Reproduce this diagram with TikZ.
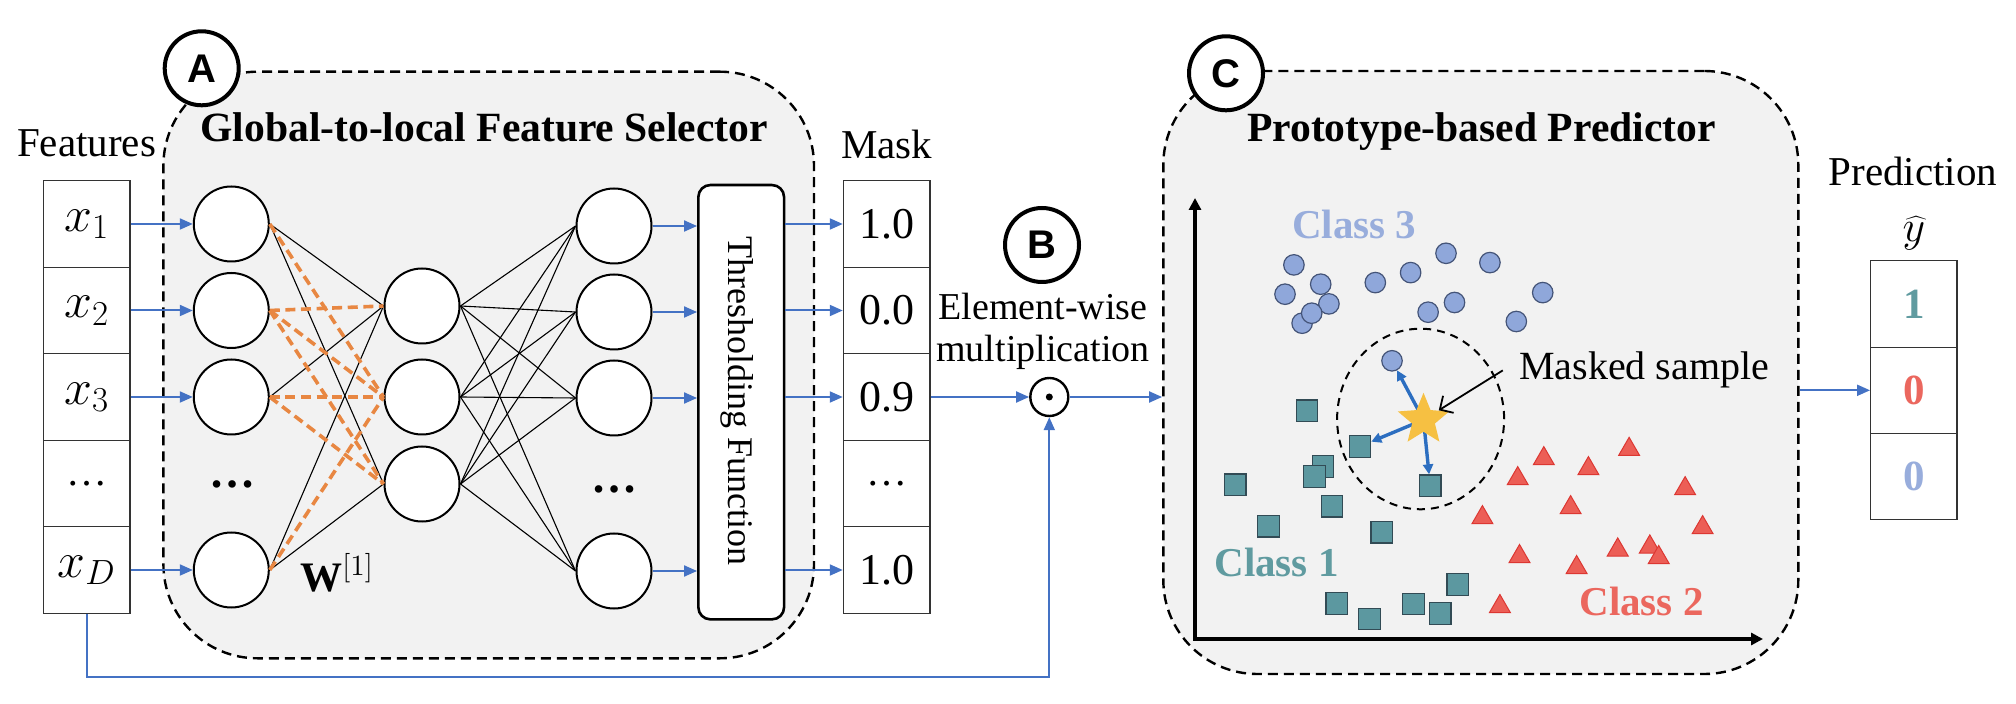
\RequirePackage{fix-cm}
\documentclass[tikz,border=0pt]{standalone}
\usepackage{fontspec}
\setmainfont{Liberation Serif}
\newfontfamily\arialfont{Liberation Sans}
\usetikzlibrary{arrows.meta,shapes.geometric}
\definecolor{boxgray}{RGB}{242,242,242}
\definecolor{arrowblue}{RGB}{68,114,196}
\definecolor{wOrange}{RGB}{232,135,66}
\definecolor{c3fill}{RGB}{143,167,218}
\definecolor{c3line}{RGB}{68,84,120}
\definecolor{c1fill}{RGB}{92,152,160}
\definecolor{c1line}{RGB}{50,75,85}
\definecolor{c2fill}{RGB}{236,94,86}
\definecolor{c2line}{RGB}{220,55,50}
\definecolor{c1text}{RGB}{96,155,160}
\definecolor{c2text}{RGB}{235,103,94}
\definecolor{c3text}{RGB}{152,173,220}
\definecolor{stargold}{RGB}{246,192,66}
\definecolor{starblue}{RGB}{44,110,192}
\newcommand{\fsz}[1]{\fontsize{#1}{#1}\selectfont}
\begin{document}
\begin{tikzpicture}[x=0.5pt,y=-0.5pt,
  txt/.style={inner sep=0pt,font=\fsz{20.5pt}},
  title/.style={inner sep=0pt,font=\bfseries\fsz{20.8pt}},
  lettercirc/.style={circle,draw,line width=2pt,fill=white,minimum size=37pt,inner sep=0pt,font=\arialfont\bfseries\fsz{20pt}},
  bigbox/.style={draw,dash pattern=on 5pt off 3pt,line width=1.2pt,fill=boxgray,rounded corners=47pt,inner sep=0pt},
  cell/.style={draw=black!80,line width=0.6pt,fill=white,minimum width=43.35pt,minimum height=43.25pt,inner sep=0pt},
  neuron/.style={circle,draw,line width=1pt,fill=white,minimum size=37.5pt,inner sep=0pt},
  arr/.style={draw=arrowblue,line width=1pt,-{Triangle[length=6.5pt,width=5.5pt]}},
  conn/.style={line width=0.55pt},
  wconn/.style={draw=wOrange,line width=1.8pt,dash pattern=on 5pt off 2.8pt},
  c3dot/.style={circle,draw=c3line,fill=c3fill,line width=0.6pt,minimum size=10.25pt,inner sep=0pt},
  c1sq/.style={rectangle,draw=c1line,fill=c1fill,line width=0.6pt,minimum size=10.75pt,inner sep=0pt},
  c2tri/.style={regular polygon,regular polygon sides=3,draw=c2line,fill=c2fill,line width=0.5pt,minimum size=12.1pt,inner sep=0pt},
  axis/.style={line width=1.6pt,{Triangle[length=6pt,width=6pt]}-{Triangle[length=6pt,width=6pt]}},
  sarr/.style={draw=starblue,line width=1.7pt,-{Triangle[length=5pt,width=5pt]}},
  msarr/.style={line width=0.9pt,-{Straight Barb[length=5pt,width=10pt,line width=0.9pt]}}
]
\useasboundingbox (0,0) rectangle (2016,704);

% ---------- big dashed boxes ----------
\node[bigbox,minimum width=325.3pt,minimum height=293.3pt] (Abox) at (488.7,365) {};
\node[bigbox,minimum width=317.5pt,minimum height=301.5pt] (Cbox) at (1480.8,372.5) {};
\node[lettercirc] (A) at (201.7,68.3) {A};
\node[lettercirc] (C) at (1226,73.3) {C};
\node[lettercirc] (B) at (1042,245) {B};
\node[title,anchor=base west] (tA) at (200,141.7) {Global-to-local Feature Selector};
\node[title,anchor=base west] (tC) at (1246.7,141.7) {Prototype-based Predictor};

% ---------- features ----------
\node[txt,anchor=base] (featlbl) at (86.5,157) {Features};
\node[cell,font=\fsz{25pt}] (f1) at (86.7,224) {$x_1$};
\node[cell,font=\fsz{25pt}] (f2) at (86.7,310.5) {$x_2$};
\node[cell,font=\fsz{25pt}] (f3) at (86.7,397) {$x_3$};
\node[cell,font=\fsz{20.5pt}] (f4) at (86.7,483.5) {\dots};
\node[cell,font=\fsz{25pt}] (f5) at (86.7,570) {$x_D$};

% ---------- network ----------
\node[neuron] (i1) at (231.3,224) {};
\node[neuron] (i2) at (231.3,310.5) {};
\node[neuron] (i3) at (231.3,397) {};
\node[neuron] (i5) at (231.3,570) {};
\node[inner sep=0pt,font=\bfseries\fsz{23pt}] (idots) at (232,484) {\dots};
\node[neuron] (h1) at (422,306) {};
\node[neuron] (h2) at (422,397) {};
\node[neuron] (h3) at (422,484) {};
\node[neuron] (o1) at (614,226) {};
\node[neuron] (o2) at (614,312) {};
\node[neuron] (o3) at (614,398) {};
\node[neuron] (o5) at (614,571) {};
\node[inner sep=0pt,font=\bfseries\fsz{23pt}] (odots) at (614,489) {\dots};

\draw[conn] (i1.east) -- (h1.west);
\draw[conn] (i1.east) -- (h3.west);
\draw[conn] (i3.east) -- (h1.west);
\draw[conn] (i5.east) -- (h1.west);
\draw[conn] (i5.east) -- (h3.west);
\draw[wconn] (i1.east) -- (h2.west);
\draw[wconn] (i2.east) -- (h1.west);
\draw[wconn] (i2.east) -- (h2.west);
\draw[wconn] (i2.east) -- (h3.west);
\draw[wconn] (i3.east) -- (h2.west);
\draw[wconn] (i3.east) -- (h3.west);
\draw[wconn] (i5.east) -- (h2.west);
\foreach \a in {1,2,3}{\foreach \b in {1,2,3,5}{\draw[conn] (h\a.east) -- (o\b.west);}}

\node[inner sep=0pt,anchor=base west,font=\fsz{21pt}] (W) at (300,591) {$\mathbf{W}^{[1]}$};

\foreach \i in {1,2,3,5}{\draw[arr] (f\i) -- (i\i);}

% ---------- thresholding ----------
\node[draw,line width=1.3pt,rounded corners=6pt,fill=white,minimum width=42.85pt,minimum height=217.15pt,inner sep=0pt] (thr) at (741.2,402.2) {};
\node[inner sep=0pt,rotate=-90,font=\fsz{18pt}] (thrtext) at (737,401) {Thresholding Function};
\foreach \i in {1,2,3,5}{\draw[arr] (o\i) -- (o\i -| thr.west);}

% ---------- mask ----------
\node[txt,anchor=base] (masklbl) at (886.7,158.5) {Mask};
\node[cell,font=\fsz{22pt}] (m1) at (886.7,224) {1.0};
\node[cell,font=\fsz{22pt}] (m2) at (886.7,310.5) {0.0};
\node[cell,font=\fsz{22pt}] (m3) at (886.7,397) {0.9};
\node[cell,font=\fsz{20.5pt}] (m4) at (886.7,483.5) {\dots};
\node[cell,font=\fsz{22pt}] (m5) at (886.7,570) {1.0};
\foreach \i in {1,2,3,5}{\draw[arr] (thr.east |- m\i) -- (m\i);}

% ---------- element-wise ----------
\node[inner sep=0pt,anchor=base,font=\fsz{19pt}] (ew1) at (1043,320) {Element-wise};
\node[inner sep=0pt,anchor=base,font=\fsz{19pt}] (ew2) at (1043,362) {multiplication};
\node[circle,draw,line width=1.2pt,fill=white,minimum size=19pt,inner sep=0pt] (odot) at (1049.3,397) {};
\fill (odot.center) circle[radius=3.5];
\draw[arr] (m3) -- (odot);
\draw[arr] (odot) -- (odot -| Cbox.west);
\coordinate (loop) at (1049.3,677);
\draw[arr] (f5.south) |- (loop) -- (odot);

% ---------- scatter ----------
\coordinate (org) at (1195,639);
\coordinate (ytop) at (1195,198);
\coordinate (xend) at (1763,639);
\draw[axis] (ytop) -- (org) -- (xend);
\node[ellipse,draw,dash pattern=on 4pt off 3pt,line width=1pt,minimum width=83.5pt,minimum height=90.3pt,inner sep=0pt] (nbhd) at (1420.6,419) {};

\foreach \x/\y [count=\k] in {1392.0/360.8,1293.9/264.9,1320.7/284.2,1285.0/294.2,1328.9/303.9,1302.1/323.2,1311.7/313.2,1375.3/282.6,1410.6/272.6,1446.0/253.3,1489.9/262.6,1454.5/302.5,1428.1/312.2,1542.7/292.6,1516.3/321.5}
  {\node[c3dot] (d\k) at (\x,\y) {};}
\foreach \x/\y [count=\k] in {1359.9/446.4,1430.2/485.7,1307.1/410.8,1323.1/466.4,1314.6/476.4,1235.3/484.7,1332.1/506.3,1268.5/526.3,1381.7/532.3,1457.7/584.6,1336.7/603.6,1413.5/603.9,1369.6/618.9,1440.2/613.6}
  {\node[c1sq] (s\k) at (\x,\y) {};}
\foreach \x/\y [count=\k] in {1629.1/449.4,1543.8/458.7,1588.4/468.7,1517.7/478.7,1685.1/488.7,1570.6/507.7,1482.4/517.7,1702.6/527.7,1519.5/556.6,1617.7/550,1649.8/547,1658.7/557.6,1576.6/567.6,1499.9/606.6}
  {\node[c2tri] (t\k) at (\x,\y) {};}

\coordinate (sc) at (1423.5,419.8);
\draw[sarr] (sc) -- (d1);
\draw[sarr] (sc) -- (s1);
\draw[sarr] (sc) -- (s2);
\node[star,star points=5,star point ratio=2.25,fill=stargold,minimum size=27pt,inner sep=0pt] (star) at (sc) {};

\node[txt,anchor=base west,font=\fsz{20pt}] (ms) at (1518.8,380) {Masked sample};
\draw[msarr] ([xshift=-8pt]ms.west) -- (star);

\node[inner sep=0pt,anchor=base west,font=\bfseries\fsz{20.5pt},text=c3text] (cl3) at (1291.7,239) {Class 3};
\node[inner sep=0pt,anchor=base west,font=\bfseries\fsz{20.5pt},text=c1text] (cl1) at (1214,576) {Class 1};
\node[inner sep=0pt,anchor=base west,font=\bfseries\fsz{20.5pt},text=c2text] (cl2) at (1579,615) {Class 2};

% ---------- prediction ----------
\node[txt,anchor=base] (predlbl) at (1913,186) {Prediction};
\node[inner sep=0pt,anchor=base,font=\fsz{22pt}] (yhat) at (1914,242) {$\widehat{y}$};
\node[cell,minimum width=43.15pt,minimum height=43.15pt,font=\bfseries\fsz{21.5pt},text=c1text] (p1) at (1913.8,304) {1};
\node[cell,minimum width=43.15pt,minimum height=43.15pt,font=\bfseries\fsz{21.5pt},text=c2text] (p2) at (1913.8,390.3) {0};
\node[cell,minimum width=43.15pt,minimum height=43.15pt,font=\bfseries\fsz{21.5pt},text=c3text] (p3) at (1913.8,476.6) {0};
\draw[arr] (Cbox.east |- p2) -- (p2);
\end{tikzpicture}
\end{document}
